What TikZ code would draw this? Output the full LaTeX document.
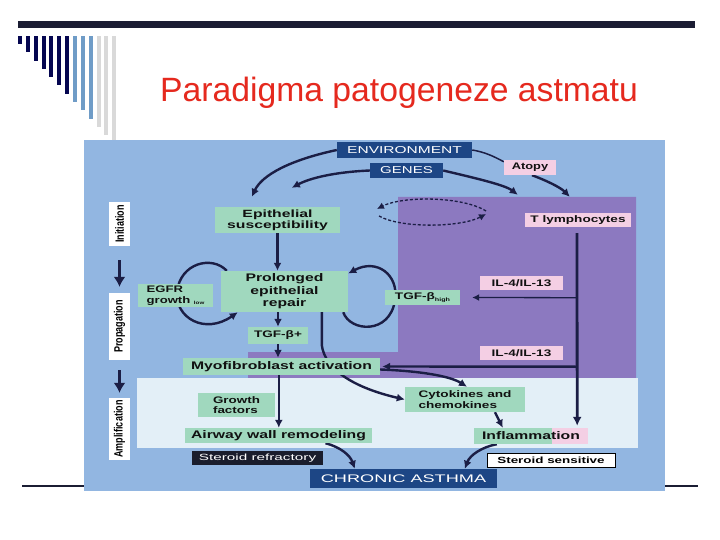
\documentclass[tikz,border=0pt]{standalone}
\usepackage{fontspec}
\setmainfont{Liberation Sans}
\usepackage{graphicx}
\usetikzlibrary{arrows.meta,calc}
\definecolor{navyb}{HTML}{050650}
\definecolor{steelb}{HTML}{6F9CC7}
\definecolor{greyb}{HTML}{D9D9D9}
\definecolor{topbar}{HTML}{1B1D33}
\definecolor{titlered}{HTML}{E5291E}
\definecolor{bgblue}{HTML}{92B6E1}
\definecolor{purp}{HTML}{8C79C0}
\definecolor{lightband}{HTML}{E3EFF7}
\definecolor{grn}{HTML}{A0D8BE}
\definecolor{pnk}{HTML}{F4CFE4}
\definecolor{dkb}{HTML}{1D4685}
\definecolor{arrc}{HTML}{1B1E45}
\definecolor{srk}{HTML}{1A1D2C}
\definecolor{txt}{HTML}{111111}
\newcommand{\fs}[1]{\fontsize{#1}{#1}\selectfont}
\newcommand{\hs}[2][1.43]{\scalebox{#1}[1]{#2}}
\pgfdeclarelayer{back}
\pgfdeclarelayer{conn}
\pgfsetlayers{back,conn,main}
\begin{document}
\begin{tikzpicture}[x=1pt,y=-1pt,
  gb/.style={fill=grn, inner sep=0pt, text=txt, align=center},
  pb/.style={fill=pnk, inner sep=0pt, text=txt, align=center, font=\bfseries\fs{9.5}},
  db/.style={fill=dkb, inner sep=0pt, text=white, font=\fs{10}},
  lb/.style={fill=white, rotate=90, inner sep=0pt, text=black, font=\bfseries\fs{12}},
  arr/.style={draw=arrc, line width=2.4pt, -{Latex[length=8pt,width=8pt]}},
  bigarr/.style={draw=arrc, line width=3.6pt, -{Latex[length=10pt,width=12pt]}},
  thinarr/.style={draw=arrc, line width=1.3pt, -{Latex[length=7pt,width=7pt]}},
  dotarr/.style={draw=arrc, line width=1.3pt, dash pattern=on 3pt off 2pt, -{Latex[length=7pt,width=7pt]}},
  plainln/.style={draw=arrc, line width=1.5pt}]
\useasboundingbox (0,0) rectangle (720,540);
\begin{pgfonlayer}{back}
\fill[white] (0,0) rectangle (720,540);
\fill[topbar] (18,21) rectangle (695,28);
\foreach \i in {0,...,12}{
  \pgfmathsetmacro\xa{18+7.85*\i}
  \ifnum\i<7 \def\cc{navyb}\else\ifnum\i<10 \def\cc{steelb}\else\def\cc{greyb}\fi\fi
  \fill[\cc] (\xa,36) rectangle ({\xa+4},{44+8.3*\i});
}
\draw[topbar, line width=2pt] (22,486) -- (84,486);
\draw[topbar, line width=2pt] (665,486) -- (698,486);
\fill[bgblue] (84,140) rectangle (665,491);
\fill[purp] (398,197) -- (636,197) -- (636,378) -- (248,378) -- (248,352) -- (398,352) -- cycle;
\fill[lightband] (137,378) rectangle (638,448);
\end{pgfonlayer}

\node[anchor=base west, text=titlered, font=\fs{33.7}, inner sep=0pt] (title) at (160,102) {Paradigma patogeneze astmatu};

% left stage labels
\node[lb, minimum width=44, minimum height=21] (init) at (119.5,224) {\hs[0.75]{Initiation}};
\node[lb, minimum width=67, minimum height=21] (prop) at (119.5,326.5) {\hs[0.75]{Propagation}};
\node[lb, minimum width=62, minimum height=21] (ampl) at (119.5,429) {\hs[0.75]{Amplification}};

% top boxes
\node[db, minimum width=135, minimum height=16] (env) at (404.5,150) {\hs[1.55]{ENVIRONMENT}};
\node[db, minimum width=73, minimum height=15] (genes) at (406.5,170.5) {\hs[1.5]{GENES}};
\node[pb, minimum width=52, minimum height=15] (atopy) at (530,167.5) {\hs[1.35]{Atopy}};
\node[pb, minimum width=106, minimum height=14] (tly) at (578,220) {\hs{T lymphocytes}};

% green boxes
\node[gb, minimum width=125, minimum height=26, font=\bfseries\fontsize{10.5}{11}\selectfont] (es) at (277.5,220) {\hs[1.5]{Epithelial}\\\hs[1.5]{susceptibility}};
\node[gb, minimum width=127, minimum height=41, font=\bfseries\fontsize{11}{12.5}\selectfont] (pr) at (284.5,291.5) {\hs{Prolonged}\\\hs{epithelial}\\\hs{repair}};
\node[gb, minimum width=75, minimum height=23, align=left, font=\bfseries\fontsize{9.5}{10.5}\selectfont] (egfr) at (175.5,295.5) {\hs[1.38]{EGFR}\\\hs[1.38]{growth {\fs{4.5}\raisebox{-1pt}{low}}}};
\node[gb, minimum width=60, minimum height=17, font=\bfseries\fs{9.5}] (tgfp) at (278,335.5) {\hs{TGF-β+}};
\node[gb, minimum width=75, minimum height=15, font=\bfseries\fs{9.5}] (tgfh) at (422.5,297.5) {\hs{TGF-β{\fs{5}\raisebox{-1.5pt}{high}}}};
\node[pb, minimum width=83, minimum height=14] (il1) at (521.5,283) {\hs{IL-4/IL-13}};
\node[pb, minimum width=83, minimum height=14] (il2) at (521.5,353) {\hs{IL-4/IL-13}};
\node[gb, minimum width=197, minimum height=17, font=\bfseries\fs{11}] (myo) at (281.5,366.5) {\hs{Myofibroblast activation}};
\node[gb, minimum width=77, minimum height=24, align=left, font=\bfseries\fontsize{9.5}{10.5}\selectfont] (gf) at (236.5,405) {\hs[1.41]{Growth}\\\hs[1.41]{factors}};
\node[gb, minimum width=120, minimum height=25, align=left, font=\bfseries\fontsize{9.5}{10.5}\selectfont] (cyt) at (465,399.5) {\hs{Cytokines and}\\\hs{chemokines}};
\node[gb, minimum width=187, minimum height=15, font=\bfseries\fs{11}] (awr) at (278.5,435.5) {\hs{Airway wall remodeling}};
\node[gb, minimum width=114, minimum height=16, font=\bfseries\fs{11},
  path picture={\fill[pnk] ($(path picture bounding box.north east)+(-36,0)$) rectangle (path picture bounding box.south east);}] (infl) at (531,436) {\hs{Inflammation}};

% bottom boxes
\node[fill=srk, text=white, inner sep=0pt, minimum width=131, minimum height=14, font=\fs{9}] (sr) at (257.5,458) {\hs[1.7]{Steroid refractory}};
\node[draw=black, line width=0.8pt, fill=white, text=black, inner sep=0pt, minimum width=128, minimum height=14, font=\bfseries\fs{9}] (ss) at (551,460) {\hs[1.49]{Steroid sensitive}};
\node[db, minimum width=187, minimum height=19, font=\fs{11}] (ca) at (403.5,478.5) {\hs[1.65]{CHRONIC ASTHMA}};

\begin{pgfonlayer}{conn}
% stage arrows
\draw[bigarr] ($(init.west)+(0,14)$) -- ($(prop.east)+(0,-6)$);
\draw[bigarr] ($(prop.west)+(0,10)$) -- ($(ampl.east)+(0,-5)$);
% environment / genes
\draw[arr] (env.west) .. controls (290,160) and (262,175) .. ($(es.north west)+(37,-10)$);
\draw[arr] (genes.west) .. controls (335,172) and (310,178) .. ($(es.north west)+(77,-19)$);
\draw[plainln] (env.east) .. controls (485,152) and (495,157) .. ($(atopy.north west)+(0,2)$);
\draw[arr] (genes.east) .. controls (475,178) and (505,185) .. ($(tly.north west)+(-7,-18)$);
\draw[arr] ($(atopy.south)+(2,0)$) .. controls (545,180) and (560,187) .. ($(tly.north west)+(45,-16)$);
% dotted exchange
\coordinate (du1) at (486,211);
\coordinate (du2) at (377,209);
\coordinate (dl1) at (379,216);
\coordinate (dl2) at (486,214);
\draw[dotarr] (du1) .. controls (462,196) and (402,196) .. (du2);
\draw[dotarr] (dl1) .. controls (402,229) and (462,227) .. (dl2);
% main vertical chain
\draw[arr] (es.south) -- (es.south |- pr.north);
\draw[arr] (tgfp.north |- pr.south) -- (tgfp.north);
\draw[arr] (tgfp.south) -- (tgfp.south |- myo.north);
\draw[arr] ($(myo.south west)+(96,0)$) -- ($(awr.north west)+(94,0)$);
% loops
\draw[arr] ($(pr.north west)+(6,0)$) .. controls (212,255) and (180,263) .. (177,292) .. controls (175,318) and (205,335) .. ($(pr.south west)+(17,0)$);
\draw[arr] ($(pr.south east)+(-5,0)$) .. controls (350,332) and (390,335) .. (395,300) .. controls (399,275) and (377,258) .. ($(pr.east)+(0,-18)$);
% repair to cytokines
\draw[arr] ($(pr.south west)+(101,0)$) -- ++(0,33) .. controls (325,370) and (355,388) .. (cyt.west);
% T lymphocytes
\draw[draw=arrc, line width=2.8pt, -{Latex[length=9pt,width=9pt]}] ($(tly.south)+(-1,6)$) -- ($(infl.north east)+(-11,-2)$);
\draw[thinarr] ($(tly.south)+(-1,70.5)$) -- ($(tgfh.east)+(12,0)$);
\draw[arr] ($(tly.south)+(-1,139.5)$) -- ($(myo.east)+(2,0)$);
\draw[arr] ($(myo.east)+(0,3)$) .. controls (420,371) and (450,376) .. ($(cyt.north)+(2,0)$);
\draw[arr] ($(cyt.south)+(30,0)$) -- ($(infl.north west)+(29,0)$);
% to chronic asthma
\draw[arr] ($(awr.south)+(47,0)$) .. controls (340,447) and (350,455) .. ($(ca.north west)+(45,0)$);
\draw[arr] ($(infl.south west)+(23,0)$) .. controls (482,447) and (470,455) .. ($(ca.north west)+(155,0)$);
\end{pgfonlayer}
\end{tikzpicture}
\end{document}
